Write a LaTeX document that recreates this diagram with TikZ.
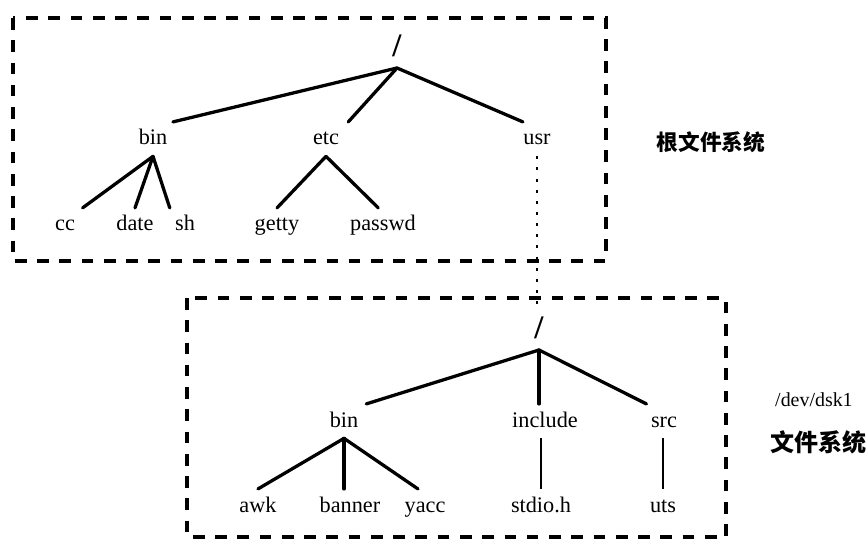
\documentclass[tikz,border=0pt]{standalone}
\usepackage{fontspec}
\setmainfont{Liberation Serif}
\newfontfamily\cjk{Noto Sans CJK SC}
\usetikzlibrary{calc}
\tikzset{
  dir/.style={font=\fontsize{19}{22}\selectfont, inner xsep=2pt, inner ysep=5.5pt,
    text height=14pt, text depth=4pt, anchor=base},
  rootsl/.style={font=\fontsize{28}{28}\selectfont\bfseries, inner sep=0pt,
    inner ysep=9pt, anchor=south},
  branch/.style={line width=2.8pt, line cap=round},
  thinbranch/.style={line width=1.8pt},
  fsbox/.style={line width=2.8pt, dash pattern=on 10pt off 9pt},
  mountline/.style={line width=2.2pt, dash pattern=on 2.5pt off 7pt},
  fslabel/.style={font=\cjk\bfseries\fontsize{18.5}{22}\selectfont, inner sep=0pt},
  devlabel/.style={font=\fontsize{17}{20}\selectfont, inner sep=0pt}
}

\begin{document}
\begin{tikzpicture}[x=0.03cm, y=-0.03cm]
  \useasboundingbox (0,0) rectangle (867,541);

  % root file system
  \draw[fsbox] (13,18) rectangle (606,261);
  \node[rootsl] (rootA) at (397,68) {/};
  \node[dir] (binA) at (153,145) {bin};
  \node[dir] (etcA) at (326,145) {etc};
  \node[dir] (usrA) at (537,145) {usr};
  \node[dir] (cc) at (65,231) {cc};
  \node[dir] (date) at (135,231) {date};
  \node[dir] (sh) at (185,231) {sh};
  \node[dir] (getty) at (277,231) {getty};
  \node[dir] (passwd) at (383,231) {passwd};

  \draw[branch] (rootA.south) -- ([xshift=17pt]binA.north);
  \draw[branch] (rootA.south) -- ([xshift=19pt]etcA.north);
  \draw[branch] (rootA.south) -- ([xshift=-12pt]usrA.north);
  \draw[branch] (binA.south) -- ([xshift=15pt]cc.north);
  \draw[branch] (binA.south) -- (date.north);
  \draw[branch] (binA.south) -- ([xshift=-13pt]sh.north);
  \draw[branch] (etcA.south) -- (getty.north);
  \draw[branch] (etcA.south) -- ([xshift=-4pt]passwd.north);

  \node[fslabel] (rootfs) at (711,142) {根文件系统};

  % mounted file system
  \draw[fsbox] (187,298) rectangle (726,537);
  \node[rootsl] (rootB) at (539,350) {/};
  \node[dir] (binB) at (344,427) {bin};
  \node[dir] (incl) at (545,427) {include};
  \node[dir] (srcB) at (664,427) {src};
  \node[dir] (awk) at (258,512) {awk};
  \node[dir] (banner) at (350,512) {banner};
  \node[dir] (yacc) at (425,512) {yacc};
  \node[dir] (stdio) at (541,512) {stdio.h};
  \node[dir] (uts) at (663,512) {uts};

  \draw[branch] (rootB.south) -- ([xshift=19pt]binB.north);
  \draw[branch] (rootB.south) -- (rootB.south |- incl.north);
  \draw[branch] (rootB.south) -- ([xshift=-15pt]srcB.north);
  \draw[branch] (binB.south) -- (awk.north);
  \draw[branch] (binB.south) -- (binB.south |- banner.north);
  \draw[branch] (binB.south) -- ([xshift=-6pt]yacc.north);
  \draw[thinbranch] (stdio.north |- incl.south) -- (stdio.north);
  \draw[thinbranch] (uts.north |- srcB.south) -- (uts.north);

  \node[devlabel, anchor=west] (dev) at (775,400) {/dev/dsk1};
  \node[fslabel, anchor=west, font=\cjk\bfseries\fontsize{20.5}{24}\selectfont] (devfs) at (770,442) {文件系统};

  % mount point
  \draw[mountline] (usrA.south) -- (usrA.south |- rootB.north);
\end{tikzpicture}
\end{document}
